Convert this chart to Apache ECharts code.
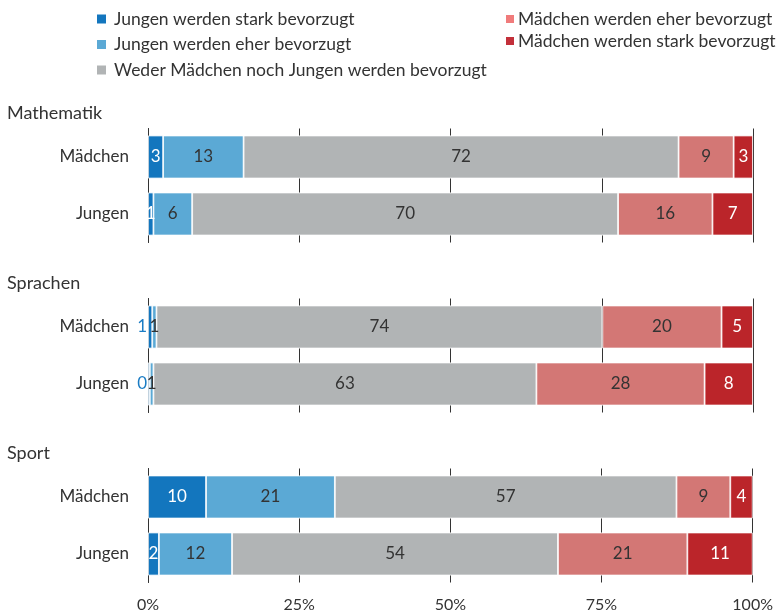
<!DOCTYPE html>
<html>
<head>
<meta charset="utf-8">
<script src="https://cdn.jsdelivr.net/npm/echarts@6/dist/echarts.min.js"></script>
<style>
  html, body { margin: 0; padding: 0; background: #fff; }
  #chart { width: 776px; height: 616px; }
</style>
</head>
<body>
<div id="chart"></div>
<script>
// Gruppen und Zeilen
const groups = ['Mathematik', 'Sprachen', 'Sport'];
const rows = ['Mädchen', 'Jungen'];
const seriesNames = [
  'Jungen werden stark bevorzugt',
  'Jungen werden eher bevorzugt',
  'Weder Mädchen noch Jungen werden bevorzugt',
  'Mädchen werden eher bevorzugt',
  'Mädchen werden stark bevorzugt',
];
// Werte in %, Reihenfolge: Mathe M, Mathe J, Sprachen M, Sprachen J, Sport M, Sport J
const jungenStark   = [2.5, 0.9, 0.7, 0.3, 9.6, 1.8];
const jungenEher    = [13.3, 6.4, 0.7, 0.6, 21.3, 12.1];
const weder         = [71.9, 70.4, 73.7, 63.3, 56.5, 53.9];
const maedchenEher  = [9.1, 15.6, 19.7, 27.8, 8.9, 21.4];
const maedchenStark = [3.2, 6.7, 5.2, 8.0, 3.7, 10.8];
const xTicks = [0, 25, 50, 75, 100];

const values = [jungenStark, jungenEher, weder, maedchenEher, maedchenStark];
const colors = ['#1376be', '#5ba9d5', '#b1b4b5', '#d37775', '#bb252a'];
const labelColors = ['#fff', '#333', '#333', '#333', '#fff'];
const FONT = 'Lato';

const chart = echarts.init(document.getElementById('chart'));

const gridTop0 = 128.5, gridStep = 170, gridH = 114;

const grids = groups.map((g, i) => ({
  left: 148, right: 23, top: gridTop0 + i * gridStep, height: gridH,
}));

const xAxes = groups.map((g, i) => ({
  gridIndex: i, type: 'value', min: 0, max: 100, interval: 25,
  axisLine: { show: false }, axisTick: { show: false },
  splitLine: { show: true, lineStyle: { color: '#333', width: 1 } },
  axisLabel: {
    show: i === groups.length - 1, formatter: '{value}%',
    color: '#333', fontSize: 16, fontFamily: FONT, margin: 14,
    customValues: xTicks,
  },
}));

const yAxes = groups.map((g, i) => ({
  gridIndex: i, type: 'category', data: rows, inverse: true,
  axisLine: { show: true, lineStyle: { color: '#333', width: 1 } },
  axisTick: { show: false },
  axisLabel: { color: '#333', fontSize: 17, fontFamily: FONT, margin: 19 },
}));

const series = [];
groups.forEach((g, gi) => {
  seriesNames.forEach((name, si) => {
    const data = values[si].slice(gi * 2, gi * 2 + 2).map(v => {
      const item = { value: v };
      if (si === 0 && v < 0.8) {
        item.label = { position: 'left', distance: 1, color: '#1a7cc4' };
      }
      return item;
    });
    series.push({
      name, type: 'bar', stack: 'g' + gi, xAxisIndex: gi, yAxisIndex: gi,
      barWidth: 43, data,
      itemStyle: { color: colors[si], borderColor: '#fff', borderWidth: 0.8 },
      label: {
        show: true, position: 'inside', color: labelColors[si],
        fontSize: 17, fontFamily: FONT,
        formatter: p => String(Math.round(p.value)),
      },
      emphasis: { disabled: true },
    });
  });
});

const legendText = { color: '#333', fontSize: 17.5, fontFamily: FONT, lineHeight: 20 };

chart.setOption({
  animation: false,
  textStyle: { fontFamily: FONT },
  title: groups.map((g, i) => ({
    text: g, left: 2, top: gridTop0 + i * gridStep - 29,
    textStyle: { color: '#333', fontSize: 18, fontWeight: 'normal', fontFamily: FONT },
  })),
  legend: [
    {
      left: 95, top: 9, padding: 0, orient: 'vertical', itemWidth: 11, itemHeight: 11,
      itemGap: 5.5, icon: 'rect', selectedMode: false,
      textStyle: Object.assign({ padding: [0, 0, 0, 2] }, legendText),
      data: seriesNames.slice(0, 3),
    },
    {
      left: 504, top: 9, padding: 0, orient: 'vertical', itemWidth: 10, itemHeight: 10,
      itemGap: 2, icon: 'rect', selectedMode: false,
      textStyle: Object.assign({ padding: [0, 0, 0, -2] }, legendText),
      data: [
        { name: seriesNames[3], itemStyle: { color: '#f07b7b' } },
        { name: seriesNames[4], itemStyle: { color: '#c3303a' } },
      ],
    },
  ],
  grid: grids,
  xAxis: xAxes,
  yAxis: yAxes,
  series,
});
</script>
</body>
</html>
